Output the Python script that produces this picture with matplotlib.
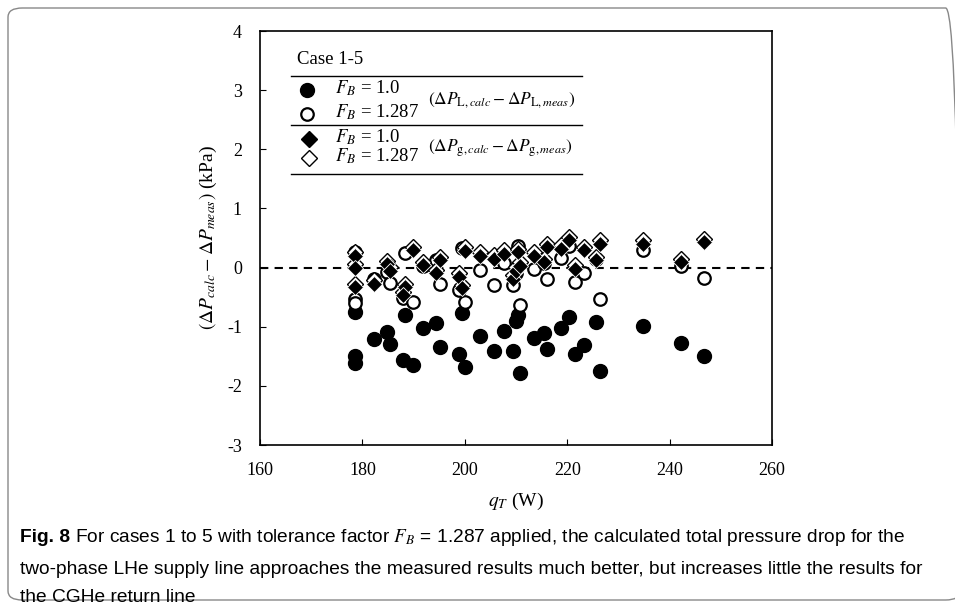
import matplotlib
matplotlib.use("Agg")
import matplotlib.pyplot as plt
from matplotlib.lines import Line2D
from matplotlib.patches import FancyBboxPatch

# heat load q_T (W) for each measured point
q_T = [178.5, 178.5, 178.6, 182.3, 184.8, 185.3, 188.4, 187.9, 189.9, 191.9,
       194.3, 195.2, 198.8, 200.1, 199.4, 203.0, 205.7, 207.7, 209.4, 210.0,
       210.3, 210.8, 213.5, 215.5, 216.1, 218.7, 220.3, 221.6, 223.2, 225.6,
       226.5, 234.9, 242.2, 246.7]

# LHe supply line, F_B = 1.0 and 1.287
dPL_10 = [-0.75, -1.50, -1.61, -1.21, -1.09, -1.29, -0.81, -1.56, -1.64, -1.02,
          -0.93, -1.34, -1.46, -1.68, -0.77, -1.16, -1.41, -1.07, -1.41, -0.91,
          -0.80, -1.78, -1.19, -1.11, -1.37, -1.02, -0.83, -1.46, -1.31, -0.92,
          -1.75, -0.98, -1.28, -1.50]
dPL_1287 = [0.26, -0.53, -0.60, -0.19, -0.08, -0.26, 0.24, -0.52, -0.58, 0.03,
            0.12, -0.27, -0.38, -0.58, 0.33, -0.04, -0.29, 0.07, -0.29, -0.10,
            0.36, -0.64, -0.03, 0.08, -0.19, 0.17, 0.37, -0.25, -0.09, 0.15,
            -0.53, 0.29, 0.02, -0.17]

# CGHe return line, F_B = 1.0 and 1.287
dPg_10 = [0.20, 0.00, -0.33, -0.27, 0.06, -0.05, -0.33, -0.47, 0.29, 0.05,
          -0.10, 0.12, -0.16, 0.28, -0.35, 0.20, 0.15, 0.23, -0.19, -0.05,
          0.26, 0.03, 0.20, 0.09, 0.34, 0.32, 0.46, -0.02, 0.29, 0.12,
          0.40, 0.40, 0.09, 0.43]
dPg_1287 = [0.26, 0.06, -0.27, -0.21, 0.11, 0.01, -0.27, -0.41, 0.35, 0.10,
            -0.04, 0.18, -0.10, 0.34, -0.29, 0.26, 0.21, 0.29, -0.13, 0.01,
            0.32, 0.09, 0.26, 0.15, 0.40, 0.38, 0.52, 0.04, 0.35, 0.18,
            0.46, 0.46, 0.15, 0.49]

W, H = 955, 606
plt.rcParams['font.family'] = ['Liberation Serif', 'DejaVu Serif']
plt.rcParams['mathtext.fontset'] = 'stix'
plt.rcParams['axes.unicode_minus'] = False

fig = plt.figure(figsize=(W / 100, H / 100), dpi=100)

def fx(px):
    return px / W

def fy(py):
    return 1 - py / H

ax = fig.add_axes([fx(260), fy(445), fx(772) - fx(260), fy(31) - fy(445)])

ms = 10
ax.plot(q_T, dPL_10, 'o', color='k', ms=ms, ls='', zorder=3)
ax.plot(q_T, dPL_1287, 'o', mfc='white', mec='k', mew=1.6, ms=ms - 1, ls='', zorder=4)
ax.plot(q_T, dPg_1287, 'D', mfc='white', mec='k', mew=1.0, ms=8.5, ls='', zorder=5)
ax.plot(q_T, dPg_10, 'D', mfc='k', mec='white', mew=0.6, ms=8.5, ls='', zorder=6)
ax.axhline(0, color='k', ls=(0, (4, 3)), lw=1.5, zorder=2)

ax.set_xlim(160, 260)
ax.set_ylim(-3, 4)
ax.set_xticks(range(160, 261, 20))
ax.set_yticks(range(-3, 5))
ax.tick_params(direction='in', labelsize=13, length=4)
ax.tick_params(axis='x', pad=12)
ax.tick_params(axis='y', pad=13)
for s in ax.spines.values():
    s.set_linewidth(1.2)
ax.set_xlabel(r'$q_T$ (W)', fontsize=14, labelpad=9)
ax.set_ylabel(r'$(\Delta P_{calc} - \Delta P_{meas})$ (kPa)', fontsize=14, labelpad=6)

# legend drawn as a small table
fs = 13.5
fig.text(fx(297), fy(60), 'Case 1-5', fontsize=fs, va='center', ha='left')
for yy in (76, 125, 174):
    fig.add_artist(Line2D([fx(291), fx(582)], [fy(yy), fy(yy)], color='k', lw=1.0))
fig.add_artist(Line2D([fx(307)], [fy(90)], marker='o', color='k', ms=ms, ls=''))
fig.add_artist(Line2D([fx(307)], [fy(114)], marker='o', mfc='white', mec='k', mew=1.6, ms=ms - 1, ls=''))
fig.add_artist(Line2D([fx(309)], [fy(139)], marker='D', color='k', ms=8.5, ls=''))
fig.add_artist(Line2D([fx(309)], [fy(158)], marker='D', mfc='white', mec='k', mew=1.0, ms=8.5, ls=''))
for yy, lab in ((88, '1.0'), (112, '1.287'), (137, '1.0'), (156, '1.287')):
    fig.text(fx(335), fy(yy), r'$F_B$ = ' + lab, fontsize=fs, va='center', ha='left')
fig.text(fx(428), fy(100), r'$(\Delta P_{\mathrm{L},calc} - \Delta P_{\mathrm{L},meas})$',
         fontsize=12.5, va='center', ha='left')
fig.text(fx(428), fy(148), r'$(\Delta P_{\mathrm{g},calc} - \Delta P_{\mathrm{g},meas})$',
         fontsize=12.5, va='center', ha='left')

# frame around figure + caption
fig.add_artist(FancyBboxPatch((fx(8), fy(600)), fx(960) - fx(8), fy(8) - fy(600),
                              boxstyle='round,pad=0,rounding_size=0.015',
                              transform=fig.transFigure, fill=False,
                              ec='#888888', lw=1.0))
cap_font = ['Liberation Sans', 'DejaVu Sans']
cap_fs = 13.75
fig.text(fx(20), fy(538), 'Fig. 8', fontsize=cap_fs, fontweight='bold',
         family=cap_font, va='center', ha='left')
fig.text(fx(75), fy(538), r'For cases 1 to 5 with tolerance factor $F_B$ = 1.287 applied, '
         'the calculated total pressure drop for the',
         fontsize=cap_fs, family=cap_font, va='center', ha='left')
fig.text(fx(20), fy(569), 'two-phase LHe supply line approaches the measured results much better, '
         'but increases little the results for',
         fontsize=cap_fs, family=cap_font, va='center', ha='left')
fig.text(fx(20), fy(597), 'the CGHe return line',
         fontsize=cap_fs, family=cap_font, va='center', ha='left')

fig.savefig('out.png', dpi=100)
